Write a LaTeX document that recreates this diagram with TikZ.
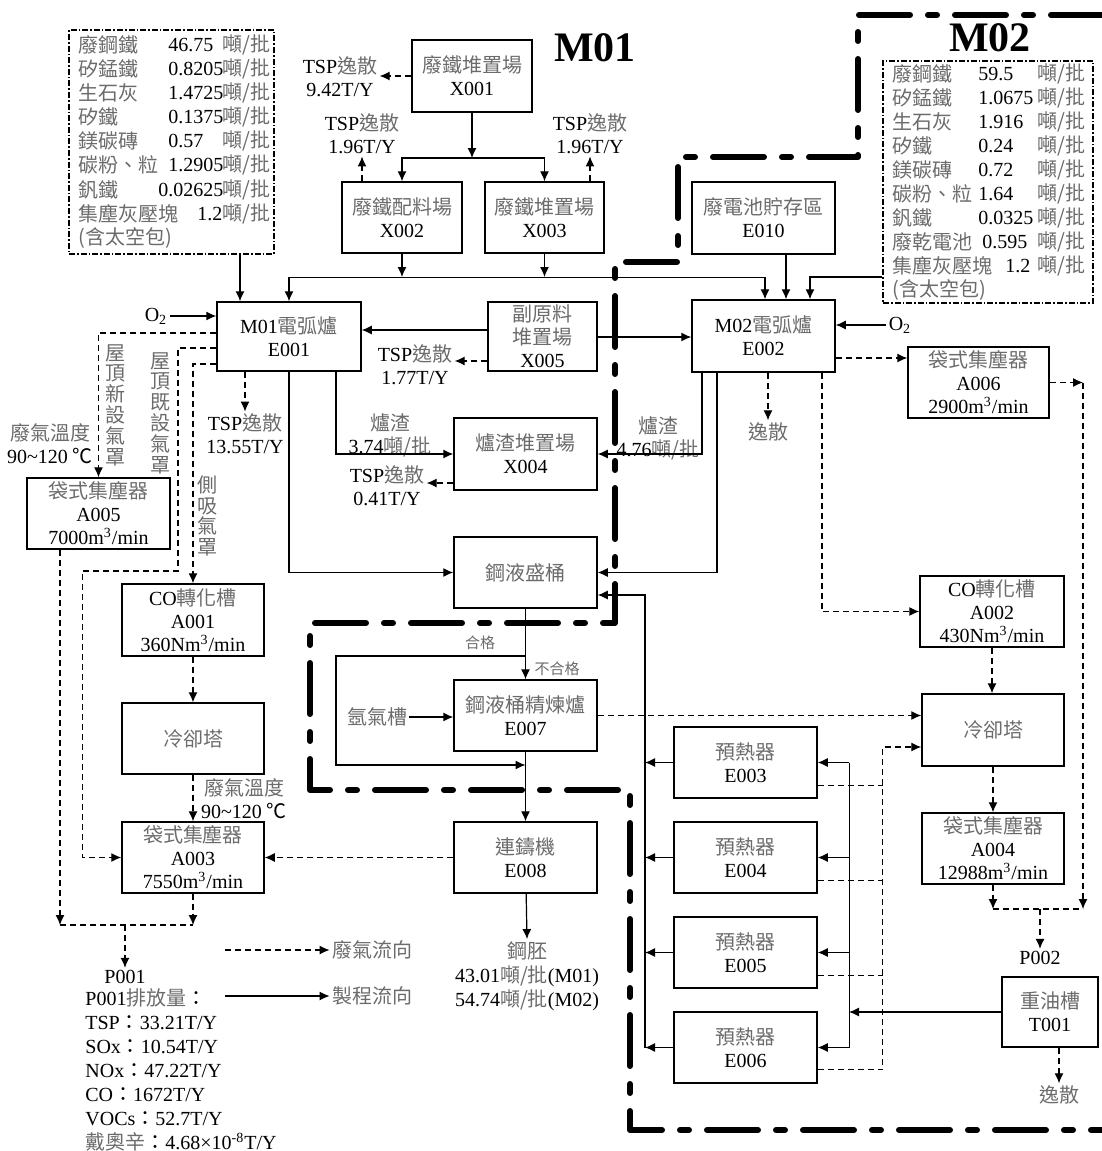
\documentclass[tikz,border=0pt]{standalone}
\usepackage{fontspec}
\setmainfont{Liberation Serif}
\newfontfamily\cjk{Noto Sans CJK TC}
\usetikzlibrary{arrows.meta,calc}
\definecolor{zhgray}{gray}{0.42}
\newcommand\zh[1]{{\cjk\color{zhgray}#1}}
\newcommand\zp[1]{{\cjk #1}}
\tikzset{
  unit/.style={draw,line width=0.75pt,inner sep=0pt,align=center,
    minimum width=71.5pt,minimum height=35.5pt},
  lbl/.style={inner sep=1pt,align=center},
  hood/.style={inner sep=1pt,align=center,text=zhgray,
    font=\cjk\fontsize{10}{10.4}\selectfont},
  flow/.style={line width=0.6pt,-{Latex[length=5pt,width=4.5pt]}},
  gasline/.style={line width=0.6pt,dash pattern=on 3pt off 2pt},
  gas/.style={gasline,-{Latex[length=5pt,width=4.5pt]}},
  matbox/.style={draw,line width=0.6pt,inner sep=0pt,
    dash pattern=on 3pt off 1pt on 0.8pt off 1pt},
  zone/.style={line width=3pt,line cap=round,line join=round,
    dash pattern=on 25.5pt off 9pt on 4.5pt off 9pt},
}
\begin{document}
\begin{tikzpicture}[x=0.5pt,y=-0.5pt,font=\fontsize{10}{11.5}\selectfont]
  \useasboundingbox (0,0) rectangle (1102,1151);

  \node[font=\fontsize{21}{24}\selectfont\bfseries] (m01) at (595,48) {M01};
  \node[font=\fontsize{21}{24}\selectfont\bfseries] (m02) at (990,38) {M02};

  \node[matbox,minimum width=102.5pt,minimum height=112pt] (mat1) at (171.5,142) {};
  \foreach \nm/\val/\vx/\yy in {廢鋼鐵/46.75/168/45, 矽錳鐵/0.8205/168/69,
      生石灰/1.4725/168/93, 矽鐵/0.1375/168/117, 鎂碳磚/0.57/168/141,
      碳粉、粒/1.2905/168/165, 釩鐵/0.02625/158/190, 集塵灰壓塊/1.2/197/214}{
    \node[anchor=west,inner sep=0pt] at (78,\yy) {\zh{\nm}};
    \node[anchor=west,inner sep=0pt] at (\vx,\yy) {\val};
    \node[anchor=east,inner sep=0pt] at (271,\yy) {\zh{噸/批}};
  }
  \node[anchor=west,inner sep=0pt] at (78,238) {\zh{(含太空包)}};

  \node[matbox,minimum width=105pt,minimum height=121pt] (mat2) at (988,182) {};
  \foreach \nm/\val/\vx/\yy in {廢鋼鐵/59.5/978/74, 矽錳鐵/1.0675/978/98,
      生石灰/1.916/978/122, 矽鐵/0.24/978/146, 鎂碳磚/0.72/978/170,
      碳粉、粒/1.64/978/194, 釩鐵/0.0325/978/218, 廢乾電池/0.595/982/242,
      集塵灰壓塊/1.2/1005/266}{
    \node[anchor=west,inner sep=0pt] at (892,\yy) {\zh{\nm}};
    \node[anchor=west,inner sep=0pt] at (\vx,\yy) {\val};
    \node[anchor=east,inner sep=0pt] at (1086,\yy) {\zh{噸/批}};
  }
  \node[anchor=west,inner sep=0pt] at (892,290) {\zh{(含太空包)}};

  \node[unit,minimum width=60pt,minimum height=36pt] (x001) at (472,76) {\zh{廢鐵堆置場}\\X001};
  \node[unit,minimum width=60pt] (x002) at (402,217.5) {\zh{廢鐵配料場}\\X002};
  \node[unit,minimum width=59.5pt] (x003) at (544.5,217.5) {\zh{廢鐵堆置場}\\X003};
  \node[unit,minimum height=36pt] (e010) at (763.5,218) {\zh{廢電池貯存區}\\E010};
  \node[unit,minimum width=72pt,minimum height=34.5pt] (e001) at (289,336.5) {M01\zh{電弧爐}\\E001};
  \node[unit,minimum width=54.5pt,minimum height=34.5pt] (x005) at (542.5,336.5) {\zh{副原料}\\\zh{堆置場}\\X005};
  \node[unit,minimum height=36pt] (e002) at (763.5,336) {M02\zh{電弧爐}\\E002};
  \node[unit,minimum width=70.5pt] (a006) at (978.5,382.5) {\zh{袋式集塵器}\\A006\\2900m\textsuperscript{3}/min};
  \node[unit,minimum height=36pt] (x004) at (525.5,454) {\zh{爐渣堆置場}\\X004};
  \node[unit] (a005) at (98.5,513.5) {\zh{袋式集塵器}\\A005\\7000m\textsuperscript{3}/min};
  \node[unit] (pail) at (525.5,572.5) {\zh{鋼液盛桶}};
  \node[unit,minimum width=71pt,minimum height=36pt] (a001) at (193,620) {CO\zh{轉化槽}\\A001\\360Nm\textsuperscript{3}/min};
  \node[unit,minimum width=72pt] (a002) at (992,611.5) {CO\zh{轉化槽}\\A002\\430Nm\textsuperscript{3}/min};
  \node[unit] (e007) at (525.5,715.5) {\zh{鋼液桶精煉爐}\\E007};
  \node[unit,minimum width=71pt] (cool1) at (193,738.5) {\zh{冷卻塔}};
  \node[unit,minimum width=71pt,minimum height=36pt] (cool2) at (993,730) {\zh{冷卻塔}};
  \node[unit,minimum width=71pt] (a003) at (193,857.5) {\zh{袋式集塵器}\\A003\\7550m\textsuperscript{3}/min};
  \node[unit] (e008) at (525.5,857.5) {\zh{連鑄機}\\E008};
  \node[unit,minimum width=71pt] (a004) at (993,848.5) {\zh{袋式集塵器}\\A004\\12988m\textsuperscript{3}/min};
  \node[unit,minimum width=48pt,minimum height=35pt] (t001) at (1050,1012) {\zh{重油槽}\\T001};
  \foreach \nm/\tg/\yy in {e003/E003/762.5, e004/E004/857.5, e005/E005/952.5, e006/E006/1047.5}
    \node[unit] (\nm) at (745.5,\yy) {\zh{預熱器}\\\tg};

  \node[lbl] (tsp1) at (340,76.5) {TSP\zh{逸散}\\9.42T/Y};
  \node[lbl] (tsp2) at (362,134) {TSP\zh{逸散}\\1.96T/Y};
  \node[lbl] (tsp3) at (590,134) {TSP\zh{逸散}\\1.96T/Y};
  \node[lbl] (tsp4) at (415,364.5) {TSP\zh{逸散}\\1.77T/Y};
  \node[lbl] (tsp5) at (245,434) {TSP\zh{逸散}\\13.55T/Y};
  \node[lbl] (tsp6) at (387,486) {TSP\zh{逸散}\\0.41T/Y};
  \node[lbl] (slag1) at (390,435.5) {\zh{爐渣}\\3.74\zh{噸/批}};
  \node[lbl] (slag2) at (658,438.5) {\zh{爐渣}\\4.76\zh{噸/批}};
  \node[lbl] (o2a) at (156,316) {O\textsubscript{2}};
  \node[lbl] (o2b) at (900,325) {O\textsubscript{2}};
  \node[lbl] (temp1) at (50,444) {\zh{廢氣溫度}\\90\textasciitilde120 \zp{℃}};
  \node[lbl] (temp2) at (244,799) {\zh{廢氣溫度}\\90\textasciitilde120 \zp{℃}};
  \node[hood] (hood1) at (115,405) {屋\\頂\\新\\設\\氣\\罩};
  \node[hood] (hood2) at (160,413) {屋\\頂\\既\\設\\氣\\罩};
  \node[hood] (hood3) at (207,516) {側\\吸\\氣\\罩};
  \node[lbl] (fug1) at (768,432) {\zh{逸散}};
  \node[lbl] (fug2) at (1059,1095) {\zh{逸散}};
  \node[lbl] (p001) at (125,977) {P001};
  \node[lbl] (p002) at (1040,958) {P002};
  \node[lbl] (argon) at (377,717) {\zh{氬氣槽}};
  \node[lbl,font=\fontsize{7.5}{9}\selectfont] (pass) at (480,643) {\zh{合格}};
  \node[lbl,font=\fontsize{7.5}{9}\selectfont] (fail) at (557,669) {\zh{不合格}};
  \node[lbl,font=\fontsize{10}{12}\selectfont] (billet) at (527,976) {\zh{鋼胚}\\43.01\zh{噸/批}(M01)\\54.74\zh{噸/批}(M02)};
  \node[lbl,anchor=west,align=left,font=\fontsize{10}{12}\selectfont] (emis) at (83,1070)
    {P001\zh{排放量}\zp{：}\\TSP\zp{：}33.21T/Y\\SOx\zp{：}10.54T/Y\\NOx\zp{：}47.22T/Y\\
     CO\zp{：}1672T/Y\\VOCs\zp{：}52.7T/Y\\\zh{戴奧辛}\zp{：}4.68\texttimes10\textsuperscript{-8}T/Y};
  \node[lbl] (legG) at (372,950) {\zh{廢氣流向}};
  \node[lbl] (legP) at (372,996) {\zh{製程流向}};
  \coordinate (legG0) at (225,950);
  \coordinate (legP0) at (225,996);
  \draw[gas] (legG0) -- (legG.west);
  \draw[flow] (legP0) -- (legP.west);

  \coordinate (split1) at (472,158);
  \coordinate (busL) at (289,277);
  \coordinate (busR) at (765,277);
  \coordinate (hk) at (178,571);
  \coordinate (jL) at (60,925);
  \coordinate (jR) at (1083,909);

  \draw[gas] (x001.west) -- (tsp1.east |- x001.west);
  \draw[flow] (x001) -- (split1);
  \draw[flow] (split1) -| (x002.north);
  \draw[flow] (split1) -| (x003.north);
  \draw[gas] (x002.north -| tsp2) -- (tsp2.south);
  \draw[gas] (x003.north -| tsp3) -- (tsp3.south);
  \draw (busL) -- (busR);
  \draw[flow] (x002) -- (x002 |- busL);
  \draw[flow] (x003) -- (x003 |- busL);
  \draw[flow] (busL) -- (e001.north);
  \draw[flow] (busR) -- (busR |- e002.north);
  \draw[flow] (mat1.south -| 240,0) -- (e001.north -| 240,0);
  \draw[flow] (e010.south -| 786,0) -- (e002.north -| 786,0);
  \draw[flow] (mat2.west |- 0,277) -| (e002.north -| 810,0);
  \draw[flow] (o2a) -- (e001.west |- o2a);
  \draw[flow] (o2b) -- (e002.east |- o2b);

  \draw[flow] (x005.west |- 0,330) -- (e001.east |- 0,330);
  \draw[flow] (x005.east |- 0,337) -- (e002.west |- 0,337);
  \draw[gas] (x005.west |- 0,361) -- (tsp4.east |- 0,361);
  \draw[gas] (e001.south -| tsp5) -- (tsp5.north);
  \draw[flow] (e001.south -| 336,0) |- (x004.west);
  \draw[gas] (x004.west |- 0,483) -- (tsp6.east |- 0,483);
  \draw[flow] (e002.south -| 702,0) |- (x004.east);
  \draw[flow] (e001.south) |- (pail.west);
  \draw[flow] (e002.south -| 717,0) |- (pail.east);

  \draw[gas] (e001.west |- 0,333) -| (a005.north);
  \draw[gas] (e001.west |- 0,348) -| (hk) -| ($(a003.west)+(-39,0)$) -- (a003.west);
  \draw[gas] (e001.west |- 0,364) -| (a001.north);
  \draw[gas] (a001) -- (cool1);
  \draw[gas] (cool1) -- (a003);
  \draw[gas] (e008.west) -- (a003.east);
  \draw[gas] (a005.south -| jL) -- (jL);
  \draw[gas] (a003.south) -- (a003.south |- jL);
  \draw[gasline] (jL) -- (a003.south |- jL);
  \draw[gas] (p001 |- jL) -- (p001.north);

  \draw[flow] (pail) -- (e007);
  \draw[flow] (pail.south |- 0,656) -| (336,765) -- (e007.south |- 0,765);
  \draw[flow] (argon.east) -- (argon.east -| e007.west);
  \draw[flow] (e007) -- (e008);
  \draw[flow] (e008) -- (billet.north);

  \draw[gas] (e002.east |- 0,358) -- (a006.west |- 0,358);
  \draw[gas] (a006.east) -- (a006.east -| jR);
  \draw[gas] (a006.east -| jR) -- (jR);
  \draw[gas] (e002.south -| fug1) -- (fug1.north);
  \draw[gas] (e002.south -| 822,0) |- (a002.west);
  \draw[gas] (a002) -- (a002 |- cool2.north);
  \draw[gas] (cool2) -- (cool2 |- a004.north);
  \draw[gas] (e007.east) -- (cool2.west |- e007.east);
  \draw[gas] (a004.south) -- (a004.south |- jR);
  \draw[gasline] (a004.south |- jR) -- (jR);
  \draw[gas] (p002 |- jR) -- (p002.north);
  \draw[gas] (t001.south -| fug2) -- (fug2.north);

  \foreach \nm in {e003,e004,e005,e006}{
    \draw[flow] (\nm.west) -- (\nm.west -| 645,0);
    \draw[flow] (\nm.east -| 849,0) -- (\nm.east);
  }
  \foreach \nm in {e003,e004,e005}
    \draw[gasline] ($(\nm.south east)+(0,-13)$) -- ++(65,0);
  \draw[gas] ($(e006.south east)+(0,-14)$) -- ++(65,0) |- (cool2.west |- 0,747);
  \draw[flow] (e006.west -| 645,0) |- (pail.east |- 0,595);
  \draw (e003.east -| 849,0) -- (e006.east -| 849,0);
  \draw[flow] (t001.west) -- (t001.west -| 849,0);

  \draw[zone] (1102,15) -- (858,15) -- (858,157) -- (678,157) -- (678,262) -- (615,262)
    -- (615,623) -- (310,623) -- (310,790) -- (630,790) -- (630,1130) -- (1102,1130);
\end{tikzpicture}
\end{document}
